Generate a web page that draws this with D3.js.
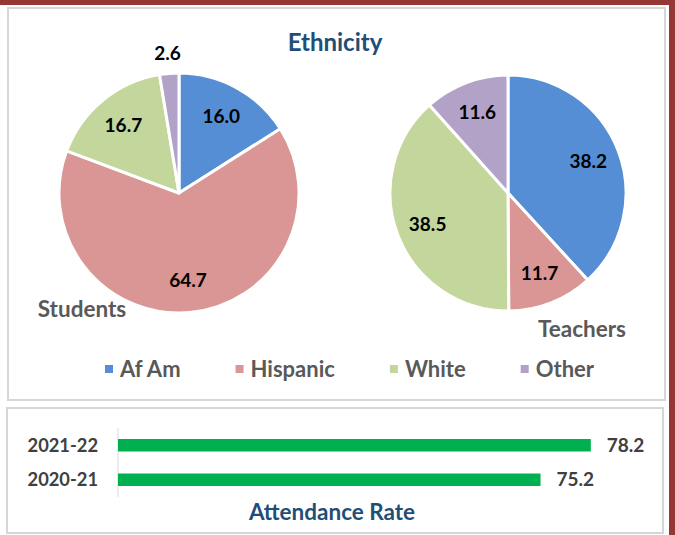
<!DOCTYPE html>
<html>
<head>
<meta charset="utf-8">
<script src="https://cdn.jsdelivr.net/npm/d3@7"></script>
<style>
  body { margin: 0; background: #fff; }
  svg { display: block; font-family: Lato, "Open Sans", sans-serif; font-weight: bold; }
</style>
</head>
<body>
<svg id="chart" width="675" height="535"></svg>
<script>
(function() {
  "use strict";

  // data
  var ethnicities = ["Af Am", "Hispanic", "White", "Other"],
    ethColors = ["#558ed5", "#d99694", "#c3d69b", "#b3a2c7"],
    studentValues = [16.0, 64.7, 16.7, 2.6],
    teacherValues = [38.2, 11.7, 38.5, 11.6],
    years = ["2021-22", "2020-21"],
    attendance = [78.2, 75.2];

  var svg = d3.select("#chart"),
    maroon = "#953735",
    titleColor = "#1f4e79",
    grey = "#595959";

  // frame
  svg.append("rect").attr("x", 0).attr("y", 0).attr("width", 675).attr("height", 5).attr("fill", maroon);
  svg.append("rect").attr("x", 669).attr("y", 0).attr("width", 6).attr("height", 535).attr("fill", maroon);

  svg.append("rect").attr("x", 8).attr("y", 8).attr("width", 657).attr("height", 392)
    .attr("fill", "#fff").attr("stroke", "#d6d6d6").attr("stroke-width", 2);
  svg.append("rect").attr("x", 7).attr("y", 408).attr("width", 656).attr("height", 125)
    .attr("fill", "#fff").attr("stroke", "#d6d6d6").attr("stroke-width", 2);

  svg.append("text")
    .attr("x", 335).attr("y", 43).attr("dy", "0.35em")
    .attr("text-anchor", "middle")
    .attr("font-size", 24).attr("fill", titleColor)
    .text("Ethnicity");

  var color = d3.scaleOrdinal().domain(ethnicities).range(ethColors);

  function drawPie(values, cx, cy, r, name, nameX, nameY) {
    var pie = d3.pie().sort(null).value(function(d) { return d; }),
      arcs = pie(values),
      arc = d3.arc().innerRadius(0).outerRadius(r),
      labelArc = d3.arc().innerRadius(r * 0.73).outerRadius(r * 0.73),
      outArc = d3.arc().innerRadius(r + 20).outerRadius(r + 20),
      g = svg.append("g").attr("transform", "translate(" + cx + "," + cy + ")");

    g.selectAll("path")
      .data(arcs)
      .enter().append("path")
      .attr("d", arc)
      .attr("fill", function(d, i) { return color(ethnicities[i]); })
      .attr("stroke", "#fff")
      .attr("stroke-width", 3)
      .attr("stroke-linejoin", "round");

    g.selectAll("text.val")
      .data(arcs)
      .enter().append("text")
      .attr("class", "val")
      .attr("transform", function(d) {
        var c = d.data < 5 ? outArc.centroid(d) : labelArc.centroid(d);
        return "translate(" + c[0] + "," + c[1] + ")";
      })
      .attr("dy", "0.35em")
      .attr("text-anchor", "middle")
      .attr("font-size", 19)
      .attr("fill", "#000")
      .text(function(d) { return d.data.toFixed(1); });

    svg.append("text")
      .attr("x", nameX).attr("y", nameY).attr("dy", "0.35em")
      .attr("text-anchor", "middle")
      .attr("font-size", 22.5).attr("fill", grey)
      .text(name);
  }

  drawPie(studentValues, 179, 193, 120, "Students", 82, 309);
  drawPie(teacherValues, 508, 193, 118, "Teachers", 582, 329);

  // legend
  var legend = svg.append("g"),
    lx = 105;
  ethnicities.forEach(function(e) {
    var item = legend.append("g").attr("transform", "translate(" + lx + ",369)");
    item.append("rect").attr("x", 0).attr("y", -4).attr("width", 8).attr("height", 8).attr("fill", color(e));
    var t = item.append("text")
      .attr("x", 15).attr("dy", "0.35em")
      .attr("font-size", 22).attr("fill", grey)
      .text(e);
    lx += 15 + t.node().getComputedTextLength() + 55;
  });

  // attendance bars
  var x = d3.scaleLinear().domain([50, 80]).range([118, 621]),
    y = d3.scaleBand().domain(years).range([428, 497]).paddingInner(0.638).paddingOuter(0.319);

  svg.append("line")
    .attr("x1", x(50)).attr("x2", x(50))
    .attr("y1", 428).attr("y2", 497)
    .attr("stroke", "#d9d9d9").attr("stroke-width", 1);

  svg.selectAll("rect.bar")
    .data(attendance)
    .enter().append("rect")
    .attr("class", "bar")
    .attr("x", x(50))
    .attr("y", function(d, i) { return y(years[i]); })
    .attr("width", function(d) { return x(d) - x(50); })
    .attr("height", y.bandwidth())
    .attr("fill", "#00b050");

  svg.selectAll("text.bv")
    .data(attendance)
    .enter().append("text")
    .attr("class", "bv")
    .attr("x", function(d) { return x(d) + 16; })
    .attr("y", function(d, i) { return y(years[i]) + y.bandwidth() / 2; })
    .attr("dy", "0.35em")
    .attr("font-size", 19).attr("fill", "#404040")
    .text(function(d) { return d.toFixed(1); });

  svg.selectAll("text.yr")
    .data(years)
    .enter().append("text")
    .attr("class", "yr")
    .attr("x", x(50) - 20)
    .attr("y", function(d) { return y(d) + y.bandwidth() / 2; })
    .attr("dy", "0.35em")
    .attr("text-anchor", "end")
    .attr("font-size", 18.3).attr("fill", "#404040")
    .text(function(d) { return d; });

  svg.append("text")
    .attr("x", 332).attr("y", 512).attr("dy", "0.35em")
    .attr("text-anchor", "middle")
    .attr("font-size", 22.5).attr("fill", titleColor)
    .text("Attendance Rate");
})();
</script>
</body>
</html>
